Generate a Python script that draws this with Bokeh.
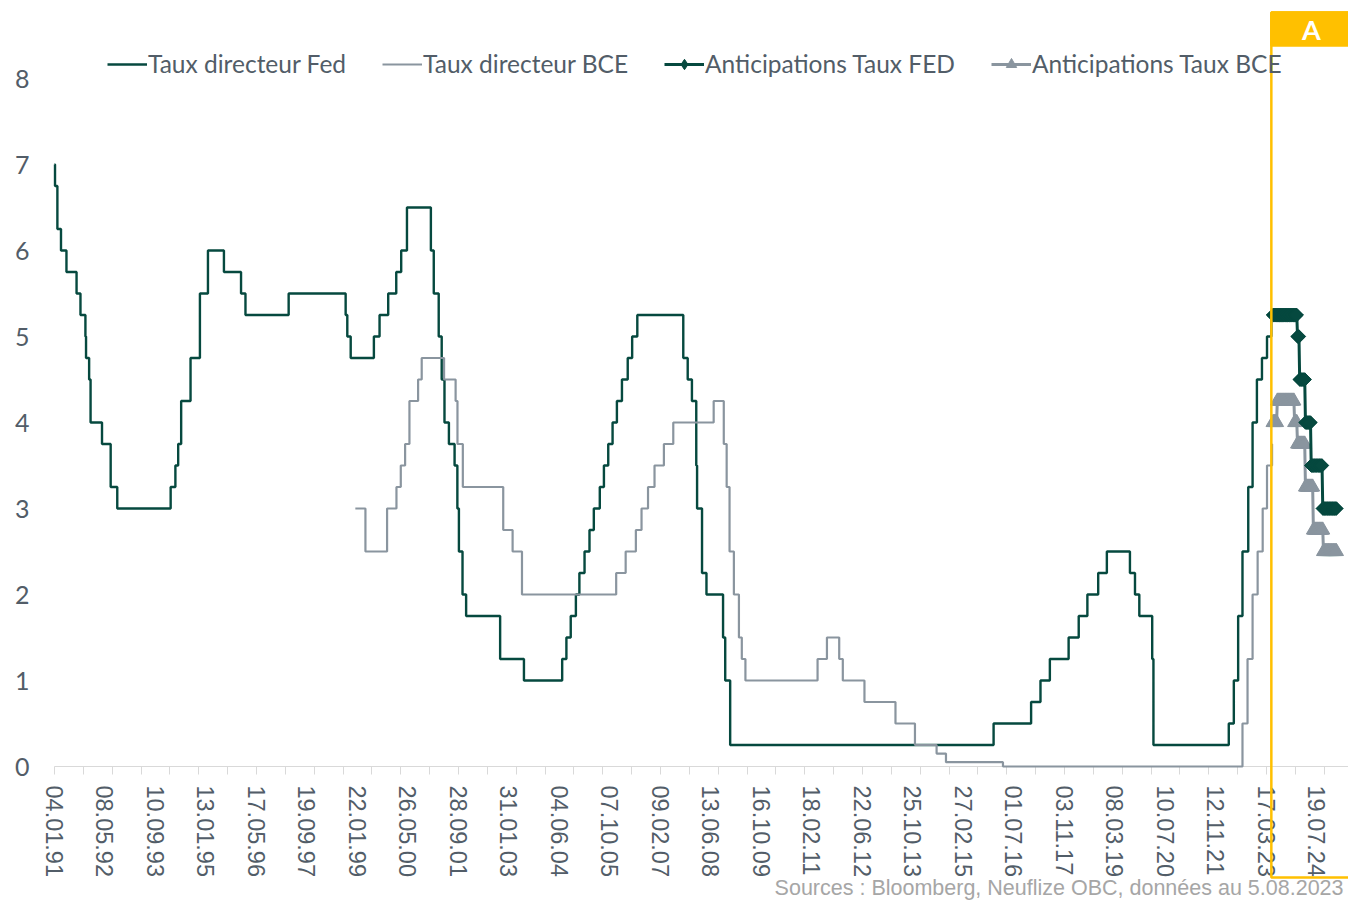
import math
import numpy as np
import pandas as pd
from bokeh.plotting import figure
from bokeh.models import (Range1d, FixedTicker, DatetimeTickFormatter, Legend, LegendItem,
                          BoxAnnotation, Label)
from bokeh.embed import file_html
from bokeh.resources import INLINE

# ---------------- data ----------------
fed_dates = ["1991-01-04", "1991-01-09", "1991-02-01", "1991-03-08", "1991-04-30", "1991-08-06",
             "1991-09-13", "1991-10-31", "1991-11-06", "1991-12-06", "1991-12-20", "1992-04-09",
             "1992-07-02", "1992-09-04", "1994-02-04", "1994-03-22", "1994-04-18", "1994-05-17",
             "1994-08-16", "1994-11-15", "1995-02-01", "1995-07-06", "1995-12-19", "1996-01-31",
             "1997-03-25", "1998-09-29", "1998-10-15", "1998-11-17", "1999-06-30", "1999-08-24",
             "1999-11-16", "2000-02-02", "2000-03-21", "2000-05-16", "2001-01-03", "2001-01-31",
             "2001-03-20", "2001-04-18", "2001-05-15", "2001-06-27", "2001-08-21", "2001-09-17",
             "2001-10-02", "2001-11-06", "2001-12-11", "2002-11-06", "2003-06-25", "2004-06-30",
             "2004-08-10", "2004-09-21", "2004-11-10", "2004-12-14", "2005-02-02", "2005-03-22",
             "2005-05-03", "2005-06-30", "2005-08-09", "2005-09-20", "2005-11-01", "2005-12-13",
             "2006-01-31", "2006-03-28", "2006-05-10", "2006-06-29", "2007-09-18", "2007-10-31",
             "2007-12-11", "2008-01-22", "2008-01-30", "2008-03-18", "2008-04-30", "2008-10-08",
             "2008-10-29", "2008-12-16", "2015-12-16", "2016-12-14", "2017-03-15", "2017-06-14",
             "2017-12-13", "2018-03-21", "2018-06-13", "2018-09-26", "2018-12-19", "2019-07-31",
             "2019-09-18", "2019-10-30", "2020-03-03", "2020-03-15", "2022-03-16", "2022-05-04",
             "2022-06-15", "2022-07-27", "2022-09-21", "2022-11-02", "2022-12-14", "2023-02-01",
             "2023-03-22", "2023-05-03", "2023-05-12"]
fed_rates = [7.00, 6.75, 6.25, 6.00, 5.75, 5.50,
             5.25, 5.00, 4.75, 4.50, 4.00, 3.75,
             3.25, 3.00, 3.25, 3.50, 3.75, 4.25,
             4.75, 5.50, 6.00, 5.75, 5.50, 5.25,
             5.50, 5.25, 5.00, 4.75, 5.00, 5.25,
             5.50, 5.75, 6.00, 6.50, 6.00, 5.50,
             5.00, 4.50, 4.00, 3.75, 3.50, 3.00,
             2.50, 2.00, 1.75, 1.25, 1.00, 1.25,
             1.50, 1.75, 2.00, 2.25, 2.50, 2.75,
             3.00, 3.25, 3.50, 3.75, 4.00, 4.25,
             4.50, 4.75, 5.00, 5.25, 4.75, 4.50,
             4.25, 3.50, 3.00, 2.25, 2.00, 1.50,
             1.00, 0.25, 0.50, 0.75, 1.00, 1.25,
             1.50, 1.75, 2.00, 2.25, 2.50, 2.25,
             2.00, 1.75, 1.25, 0.25, 0.50, 1.00,
             1.75, 2.50, 3.25, 4.00, 4.50, 4.75,
             5.00, 5.25, 5.25]

bce_dates = ["1999-01-01", "1999-04-09", "1999-11-05", "2000-02-04", "2000-03-17", "2000-04-28",
             "2000-06-09", "2000-09-01", "2000-10-06", "2001-05-11", "2001-08-31", "2001-09-18",
             "2001-11-09", "2002-12-06", "2003-03-07", "2003-06-06", "2005-12-06", "2006-03-08",
             "2006-06-15", "2006-08-09", "2006-10-11", "2006-12-13", "2007-03-14", "2007-06-13",
             "2008-07-09", "2008-10-15", "2008-11-12", "2008-12-10", "2009-01-21", "2009-03-11",
             "2009-04-08", "2009-05-13", "2011-04-13", "2011-07-13", "2011-11-09", "2011-12-14",
             "2012-07-11", "2013-05-08", "2013-11-13", "2014-06-11", "2014-09-10", "2016-03-16",
             "2022-07-27", "2022-09-14", "2022-11-02", "2022-12-21", "2023-02-08", "2023-03-22",
             "2023-05-10", "2023-05-12"]
bce_rates = [3.00, 2.50, 3.00, 3.25, 3.50, 3.75,
             4.25, 4.50, 4.75, 4.50, 4.25, 3.75,
             3.25, 2.75, 2.50, 2.00, 2.25, 2.50,
             2.75, 3.00, 3.25, 3.50, 3.75, 4.00,
             4.25, 3.75, 3.25, 2.50, 2.00, 1.50,
             1.25, 1.00, 1.25, 1.50, 1.25, 1.00,
             0.75, 0.50, 0.25, 0.15, 0.05, 0.00,
             0.50, 1.25, 2.00, 2.50, 3.00, 3.50,
             3.75, 3.75]

fed_ant_dates = ["2023-05-19", "2024-01-12", "2024-02-02", "2024-03-29", "2024-05-24",
                 "2024-09-13", "2025-01-24"]
fed_ant_rates = [5.25, 5.00, 4.50, 4.00, 3.50, 3.00, 3.00]

bce_ant_dates = ["2023-05-19", "2023-06-30", "2023-12-15", "2024-01-12", "2024-03-29",
                 "2024-06-14", "2024-09-20", "2025-01-24"]
bce_ant_rates = [4.00, 4.25, 4.00, 3.75, 3.25, 2.75, 2.50, 2.50]

tick_dates = ["1991-01-04", "1992-05-08", "1993-09-10", "1995-01-13", "1996-05-17", "1997-09-19",
              "1999-01-22", "2000-05-26", "2001-09-28", "2003-01-31", "2004-06-04", "2005-10-07",
              "2007-02-09", "2008-06-13", "2009-10-16", "2011-02-18", "2012-06-22", "2013-10-25",
              "2015-02-27", "2016-07-01", "2017-11-03", "2019-03-08", "2020-07-10", "2021-11-12",
              "2023-03-17", "2024-07-19"]
y_ticks = [0, 1, 2, 3, 4, 5, 6, 7, 8]

legend_labels = ["Taux directeur Fed", "Taux directeur BCE",
                 "Anticipations Taux FED", "Anticipations Taux BCE"]
source_text = "Sources : Bloomberg, Neuflize OBC, données au 5.08.2023"
box_label = "A"
box_start = "2023-05-03"

# ---------------- styling / geometry ----------------
FED = "#06493F"
BCE = "#8A959F"
GOLD = "#FFC000"
TXT = "#525D68"

W, H = 1348, 900
FRAME_LEFT_PX = 40
X0_PX = 54          # page x of first date
DAYS_PER_PX = 9.703
Y0_PX, PX_PER_UNIT = 766, 86.0

start = pd.Timestamp(fed_dates[0])


def ms(ts):
    return pd.Timestamp(ts).value / 1e6


def px_to_ms(px):
    return ms(start + pd.Timedelta(days=(px - X0_PX) * DAYS_PER_PX))


def py_to_val(py):
    return (Y0_PX - py) / PX_PER_UNIT


x_first = ms(start)
x_start = px_to_ms(FRAME_LEFT_PX)
x_end = px_to_ms(W)
y_end = py_to_val(0)
y_start = py_to_val(H)

p = figure(width=W, height=H, output_backend="svg", toolbar_location=None,
           x_axis_type="datetime",
           x_range=Range1d(x_start, x_end), y_range=Range1d(y_start, y_end),
           min_border_left=FRAME_LEFT_PX, min_border_right=0,
           min_border_top=0, min_border_bottom=0,
           background_fill_color="white", border_fill_color="white")
p.outline_line_color = None
p.grid.visible = False

# main series
r_fed = p.step(x=pd.to_datetime(fed_dates), y=fed_rates, mode="after",
               line_color=FED, line_width=2.4)
r_bce = p.step(x=pd.to_datetime(bce_dates), y=bce_rates, mode="after",
               line_color=BCE, line_width=2.2)


def weekly(dates, rates):
    d = pd.to_datetime(dates)
    weeks = pd.date_range(d[0], d[-1], freq="7D")
    idx = np.searchsorted(d.values, weeks.values, side="right") - 1
    return weeks, np.asarray(rates)[idx]


bw, bv = weekly(bce_ant_dates, bce_ant_rates)
r_ba_l = p.line(x=bw, y=bv, line_color=BCE, line_width=3)
r_ba_m = p.scatter(x=bw, y=bv, marker="triangle", size=14, fill_color=BCE, line_color=BCE)

fw, fv = weekly(fed_ant_dates, fed_ant_rates)
r_fa_l = p.line(x=fw, y=fv, line_color=FED, line_width=3)
# first point also drawn as a plain diamond: it serves as the legend glyph
# (legend glyphs ignore the marker angle)
r_fa_leg = p.scatter(x=fw[:1], y=fv[:1], marker="diamond", size=12,
                     fill_color=FED, line_color=FED)
r_fa_m = p.scatter(x=fw, y=fv, marker="square", angle=math.pi / 4, size=9.5,
                   fill_color=FED, line_color=FED)

# axes
xa = p.xaxis[0]
xa.fixed_location = 0
xa.bounds = (x_first, x_end)
xa.ticker = FixedTicker(ticks=[ms(d) for d in tick_dates],
                        minor_ticks=[x_first + k * 280 * 86400000.0
                                     for k in range(0, 47)])
fmt = "%d.%m.%y"
xa.formatter = DatetimeTickFormatter(microseconds=fmt, milliseconds=fmt, seconds=fmt, minsec=fmt,
                                     minutes=fmt, hourmin=fmt, hours=fmt, days=fmt, months=fmt,
                                     years=fmt, strip_leading_zeros=False)
xa.major_label_orientation = -math.pi / 2
xa.major_label_standoff = 11
xa.major_tick_out = 0
xa.major_tick_in = 0
xa.minor_tick_out = 8
xa.minor_tick_in = 0
xa.minor_tick_line_color = "#D9D9D9"
xa.axis_line_color = "#D9D9D9"
xa.axis_line_width = 1
xa.major_label_text_font = "Liberation Sans"
xa.major_label_text_font_size = "23.5px"
xa.major_label_text_color = TXT
xa.level = "underlay"

ya = p.yaxis[0]
ya.ticker = FixedTicker(ticks=y_ticks)
ya.axis_line_color = None
ya.major_tick_line_color = None
ya.minor_tick_line_color = None
ya.major_tick_out = 0
ya.major_tick_in = 0
ya.minor_tick_out = 0
ya.minor_tick_in = 0
ya.major_label_standoff = 11
ya.major_label_text_font = "Lato"
ya.major_label_text_font_size = "25px"
ya.major_label_text_color = TXT

# legend
legend = Legend(items=[
    LegendItem(label=legend_labels[0], renderers=[r_fed]),
    LegendItem(label=legend_labels[1], renderers=[r_bce]),
    LegendItem(label=legend_labels[2], renderers=[r_fa_l, r_fa_leg]),
    LegendItem(label=legend_labels[3], renderers=[r_ba_l, r_ba_m]),
], orientation="horizontal", location=(108 - FRAME_LEFT_PX - 1, H - 78),
    padding=0, margin=0, spacing=36, label_standoff=1, glyph_width=40, glyph_height=26,
    label_height=26, border_line_color=None, background_fill_alpha=0,
    label_text_font="Lato", label_text_font_size="24.5px", label_text_color=TXT)
p.add_layout(legend)

# highlighted zone
box = BoxAnnotation(left=ms(box_start), right=x_end + 60 * 86400000.0,
                    top=py_to_val(12), bottom=py_to_val(877),
                    fill_alpha=0, line_color=GOLD, line_alpha=1, line_width=2.5)
head = BoxAnnotation(left=ms(box_start), right=x_end + 60 * 86400000.0,
                     top=py_to_val(12), bottom=py_to_val(45),
                     fill_color=GOLD, fill_alpha=1, line_color=GOLD, line_alpha=1,
                     line_width=2.5)
p.add_layout(box)
p.add_layout(head)
p.add_layout(Label(x=px_to_ms(1311), y=py_to_val(29), text=box_label, text_align="center",
                   text_baseline="middle", text_color="white", text_font="Lato",
                   text_font_style="bold", text_font_size="27px"))
p.add_layout(Label(x=px_to_ms(1343), y=py_to_val(899), text=source_text, text_align="right",
                   text_baseline="bottom", text_color="#A6A6A6",
                   text_font="Liberation Sans", text_font_size="21.5px"))

open("out.html", "w").write(file_html(p, INLINE))
